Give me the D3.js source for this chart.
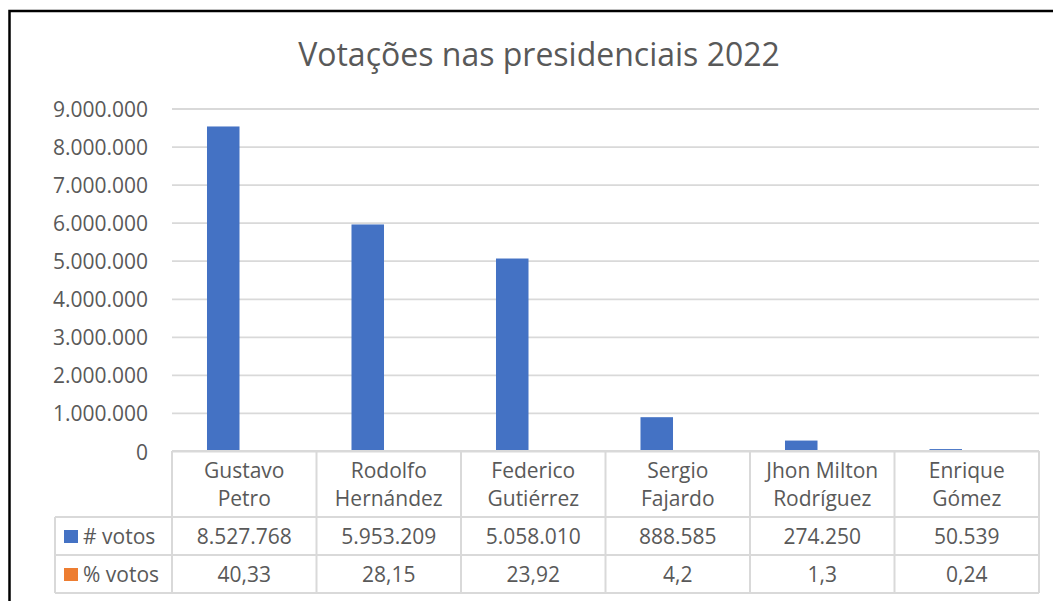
<!DOCTYPE html>
<html>
<head>
<meta charset="utf-8">
<script src="https://cdn.jsdelivr.net/npm/d3@7"></script>
<style>
  body { margin: 0; background: #fff; }
  text { font-family: "Open Sans", sans-serif; fill: #595959; }
</style>
</head>
<body>
<div id="chart"></div>
<script>
// data
var candidates = [
    ["Gustavo", "Petro"],
    ["Rodolfo", "Hernández"],
    ["Federico", "Gutiérrez"],
    ["Sergio", "Fajardo"],
    ["Jhon Milton", "Rodríguez"],
    ["Enrique", "Gómez"]
];
var votos = [8527768, 5953209, 5058010, 888585, 274250, 50539];
var pctVotos = [40.33, 28.15, 23.92, 4.2, 1.3, 0.24];
var seriesNames = ["# votos", "% votos"];
var seriesColors = ["#4472C4", "#ED7D31"];
var yTicks = [0, 1000000, 2000000, 3000000, 4000000, 5000000, 6000000, 7000000, 8000000, 9000000];

var width = 1053;
var height = 601;
var fontSize = "21px";

var margin = {
    top: 108.5,
    left: 172,
    right: 14
};
var plotW = width - margin.left - margin.right;
var plotH = 451 - margin.top;

var loc = d3.formatLocale({ decimal: ",", thousands: ".", grouping: [3], currency: ["", ""] });
var fmtVotes = loc.format(",d");
var fmtPct = function(v) { return String(v).replace(".", ","); };

var svg = d3.select("#chart")
    .append("svg")
    .attr("width", width)
    .attr("height", height);

// outer frame (runs off the right and bottom)
svg.append("rect")
    .attr("x", 9.5)
    .attr("y", 11)
    .attr("width", width + 20)
    .attr("height", height + 20)
    .attr("fill", "none")
    .attr("stroke", "#000")
    .attr("stroke-width", 2.5);

svg.append("text")
    .attr("x", 539)
    .attr("y", 66)
    .attr("text-anchor", "middle")
    .style("font-size", "32px")
    .text("Votações nas presidenciais 2022");

var g = svg.append("g")
    .attr("transform", "translate(" + margin.left + "," + margin.top + ")");

var x0 = d3.scaleBand()
    .domain(d3.range(candidates.length))
    .range([0, plotW]);

var x1 = d3.scaleBand()
    .domain([0, 1])
    .range([0, x0.bandwidth()])
    .paddingInner(0.226)
    .paddingOuter(0.833);

var y = d3.scaleLinear()
    .domain([0, 9000000])
    .range([plotH, 0]);

// gridlines + tick labels
var yAxis = g.append("g")
    .attr("class", "y axis")
    .call(d3.axisLeft(y)
        .tickValues(yTicks)
        .tickSize(-plotW)
        .tickPadding(24)
        .tickFormat(fmtVotes));
yAxis.select(".domain").remove();
yAxis.selectAll(".tick line")
    .attr("stroke", "#d9d9d9")
    .attr("stroke-width", 1.8);
yAxis.selectAll(".tick text")
    .attr("dy", "8px")
    .style("font-size", fontSize)
    .style("font-family", "'Open Sans', sans-serif")
    .attr("fill", "#595959");

var series = [votos, pctVotos];

series.forEach(function(vals, s) {
    g.selectAll(".bar-" + s)
        .data(vals)
        .enter()
        .append("rect")
        .attr("class", "bar-" + s)
        .attr("x", function(d, i) { return x0(i) + x1(s); })
        .attr("width", x1.bandwidth())
        .attr("y", function(d) { return y(d); })
        .attr("height", function(d) { return plotH - y(d); })
        .attr("fill", seriesColors[s]);
});

// data table under the plot
var rowTop = plotH;
var headH = 66;
var rowH = 38;
var legendLeft = 55 - margin.left;
var lineColor = "#d9d9d9";

var table = g.append("g").attr("class", "table");

function hline(x1p, x2p, yp) {
    table.append("line")
        .attr("x1", x1p).attr("x2", x2p)
        .attr("y1", yp).attr("y2", yp)
        .attr("stroke", lineColor)
        .attr("stroke-width", 2);
}
function vline(xp, y1p, y2p) {
    table.append("line")
        .attr("x1", xp).attr("x2", xp)
        .attr("y1", y1p).attr("y2", y2p)
        .attr("stroke", lineColor)
        .attr("stroke-width", 2);
}

var tableBottom = rowTop + headH + rowH * 2;
hline(0, plotW, rowTop);
hline(legendLeft, plotW, rowTop + headH);
hline(legendLeft, plotW, rowTop + headH + rowH);
hline(legendLeft, plotW, tableBottom);
vline(legendLeft, rowTop + headH, tableBottom);
d3.range(candidates.length + 1).forEach(function(i) {
    var xp = i < candidates.length ? x0(i) : plotW;
    vline(xp, rowTop, tableBottom);
});

// category headers
candidates.forEach(function(lines, i) {
    var t = table.append("text")
        .attr("x", x0(i) + x0.bandwidth() / 2)
        .attr("text-anchor", "middle")
        .style("font-size", fontSize);
    lines.forEach(function(l, k) {
        t.append("tspan")
            .attr("x", x0(i) + x0.bandwidth() / 2)
            .attr("y", rowTop + 26.5 + k * 28.7)
            .text(l);
    });
});

// value rows
var rowFormats = [fmtVotes, fmtPct];
series.forEach(function(vals, s) {
    var rowY = rowTop + headH + rowH * s;
    table.append("rect")
        .attr("x", 64 - margin.left)
        .attr("y", rowY + 13)
        .attr("width", 14)
        .attr("height", 13)
        .attr("fill", seriesColors[s]);
    table.append("text")
        .attr("x", 83 - margin.left)
        .attr("y", rowY + 27)
        .style("font-size", fontSize)
        .text(seriesNames[s]);
    vals.forEach(function(v, i) {
        table.append("text")
            .attr("x", x0(i) + x0.bandwidth() / 2)
            .attr("y", rowY + 27)
            .attr("text-anchor", "middle")
            .style("font-size", fontSize)
            .text(rowFormats[s](v));
    });
});
</script>
</body>
</html>
